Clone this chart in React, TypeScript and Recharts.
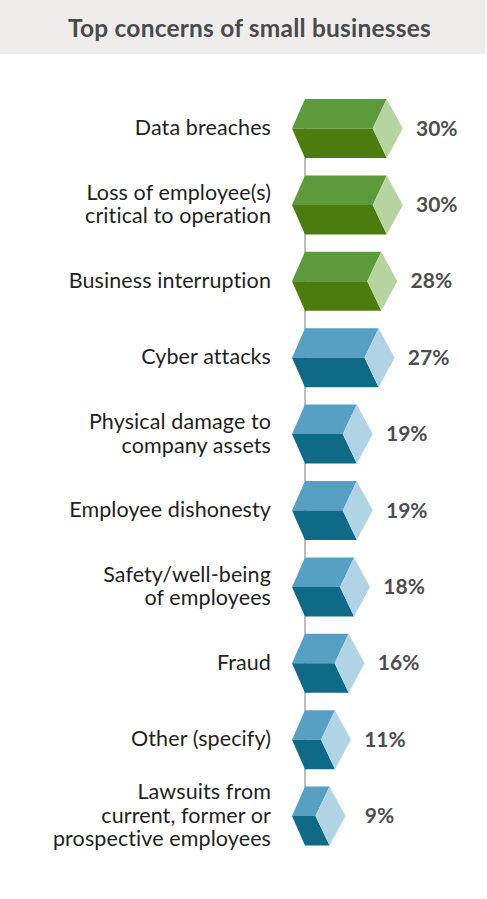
import { BarChart, Bar, XAxis, YAxis, ReferenceLine } from "recharts";

const categories = [
  "Data breaches",
  "Loss of employee(s)\ncritical to operation",
  "Business interruption",
  "Cyber attacks",
  "Physical damage to\ncompany assets",
  "Employee dishonesty",
  "Safety/well-being\nof employees",
  "Fraud",
  "Other (specify)",
  "Lawsuits from\ncurrent, former or\nprospective employees",
];
const values = [30, 30, 28, 27, 19, 19, 18, 16, 11, 9];
const groups = ["green", "green", "green", "blue", "blue", "blue", "blue", "blue", "blue", "blue"];

const palette: Record<string, { top: string; bottom: string; side: string }> = {
  green: { top: "#5d9a3b", bottom: "#4c7c0e", side: "#b6d4a0" },
  blue: { top: "#56a0c4", bottom: "#0e6a86", side: "#b1d3e6" },
};

const data = categories.map((name, i) => ({ name, value: values[i], group: groups[i] }));

const FONT = "Lato, 'Open Sans', sans-serif";

function CategoryTick(props: any) {
  const { x, y, payload } = props;
  const lines = String(payload.value).split("\n");
  const lh = 23.5;
  const start = -((lines.length - 1) * lh) / 2 + 7;
  return (
    <text
      x={x}
      y={y}
      textAnchor="end"
      fontFamily={FONT}
      fontSize={21.5}
      letterSpacing={0.1}
      fill="#231f20"
    >
      {lines.map((l, i) => (
        <tspan key={i} x={x} dy={i === 0 ? start : lh}>
          {l}
        </tspan>
      ))}
    </text>
  );
}

function HexBar(props: any) {
  const { x, y, width, height, payload } = props;
  const c = palette[payload.group];
  const cy = y + height / 2;
  const xe = x + width;
  const lead = 13;
  const back = 14;
  const tip = 16;
  const pts = (a: number[][]) => a.map((p) => p.join(",")).join(" ");
  return (
    <g>
      <polygon points={pts([[x, y], [xe, y], [xe - back, cy], [x - lead, cy]])} fill={c.top} />
      <polygon points={pts([[x - lead, cy], [xe - back, cy], [xe, y + height], [x, y + height]])} fill={c.bottom} />
      <polygon points={pts([[xe, y], [xe + tip, cy], [xe, y + height], [xe - back, cy]])} fill={c.side} />
      <text
        x={xe + tip + 34}
        y={cy + 7}
        textAnchor="middle"
        fontFamily={FONT}
        fontWeight={700}
        fontSize={21}
        fill="#4d4d4f"
      >
        {payload.value}%
      </text>
    </g>
  );
}

export default function App() {
  return (
    <div style={{ position: "absolute", left: 0, top: 0, width: 487, height: 899, background: "#fff" }}>
      <div
        style={{
          position: "absolute",
          left: 0,
          top: 0,
          width: 485,
          height: 54,
          background: "#efedeb",
          display: "flex",
          alignItems: "center",
          justifyContent: "center",
          fontFamily: FONT,
          fontWeight: 700,
          fontSize: 24.5,
          letterSpacing: 0.2,
          color: "#4a4a4c",
          paddingLeft: 14,
          boxSizing: "border-box",
        }}
      >
        Top concerns of small businesses
      </div>
      <div style={{ position: "absolute", left: 0, top: 0 }}>
        <BarChart
          width={487}
          height={899}
          data={data}
          layout="vertical"
          margin={{ top: 90, right: 73, bottom: 45, left: 0 }}
        >
          <XAxis type="number" domain={[0, 40]} hide />
          <YAxis
            type="category"
            dataKey="name"
            width={305}
            axisLine={false}
            tickLine={false}
            tickSize={0}
            tickMargin={34}
            interval={0}
            tick={<CategoryTick />}
          />
          <ReferenceLine
            segment={[
              { x: 0, y: categories[0] },
              { x: 0, y: categories[categories.length - 1] },
            ]}
            stroke="#bdbdbd"
            strokeWidth={2}
            zIndex={0}
          />
          <Bar dataKey="value" barSize={59} isAnimationActive={false} shape={<HexBar />} />
        </BarChart>
      </div>
    </div>
  );
}
